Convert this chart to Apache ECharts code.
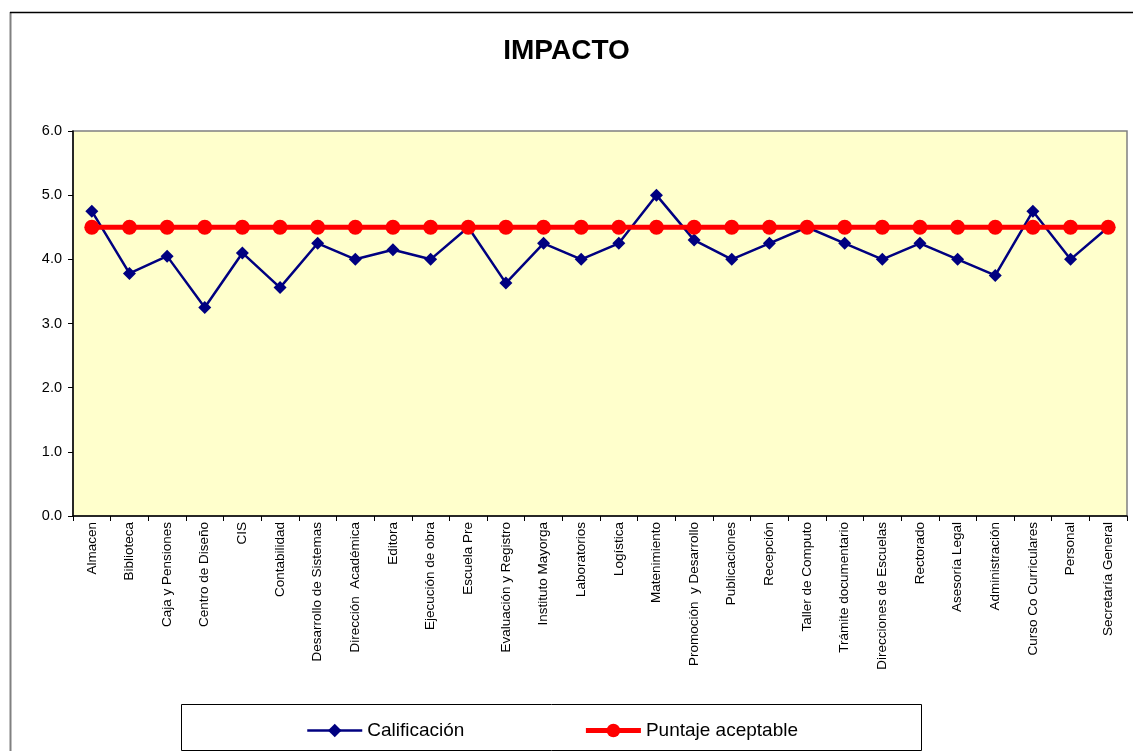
<!DOCTYPE html>
<html>
<head>
<meta charset="utf-8">
<script src="https://cdn.jsdelivr.net/npm/echarts@6/dist/echarts.min.js"></script>
<style>
  html, body { margin: 0; padding: 0; background: #ffffff; }
  #chart { width: 1133px; height: 751px; }
</style>
</head>
<body>
<div id="chart"></div>
<script>
// Areas evaluated
const categories = [
  'Almacen', 'Biblioteca', 'Caja y Pensiones', 'Centro de Diseño', 'CIS',
  'Contabilidad', 'Desarrollo de Sistemas', 'Dirección  Académica', 'Editora',
  'Ejecución de obra', 'Escuela Pre', 'Evaluación y Registro', 'Instituto Mayorga',
  'Laboratorios', 'Logística', 'Matenimiento', 'Promoción  y Desarrollo',
  'Publicaciones', 'Recepción', 'Taller de Computo', 'Trámite documentario',
  'Direcciones de Escuelas', 'Rectorado', 'Asesoría Legal', 'Administración',
  'Curso Co Curriculares', 'Personal', 'Secretaría General'
];

// Score per area
const calificacion = [
  4.75, 3.78, 4.05, 3.25, 4.1, 3.56, 4.25, 4.0, 4.15, 4.0,
  4.5, 3.63, 4.25, 4.0, 4.25, 5.0, 4.3, 4.0, 4.25, 4.5,
  4.25, 4.0, 4.25, 4.0, 3.75, 4.75, 4.0, 4.5
];

// Acceptable threshold per area
const puntajeAceptable = [
  4.5, 4.5, 4.5, 4.5, 4.5, 4.5, 4.5, 4.5, 4.5, 4.5,
  4.5, 4.5, 4.5, 4.5, 4.5, 4.5, 4.5, 4.5, 4.5, 4.5,
  4.5, 4.5, 4.5, 4.5, 4.5, 4.5, 4.5, 4.5
];

const yTicks = { min: 0, max: 6, interval: 1 };

const FONT = '"Liberation Sans", Arial, sans-serif';

const chart = echarts.init(document.getElementById('chart'), null, { renderer: 'canvas' });

chart.setOption({
  backgroundColor: '#ffffff',
  animation: false,
  title: {
    text: 'IMPACTO',
    left: 'center',
    top: 32,
    textStyle: { fontFamily: FONT, fontSize: 28, fontWeight: 'bold', color: '#000000' }
  },
  graphic: [
    // chart frame
    { type: 'line', silent: true, shape: { x1: 10.5, y1: 12, x2: 10.5, y2: 751 },
      style: { stroke: '#808080', lineWidth: 2 } },
    { type: 'line', silent: true, shape: { x1: 10, y1: 12.5, x2: 1133, y2: 12.5 },
      style: { stroke: '#000000', lineWidth: 1.5 } },
    // legend frame
    { type: 'rect', silent: true, shape: { x: 181.5, y: 704.5, width: 740, height: 46 },
      style: { fill: '#ffffff', stroke: '#000000', lineWidth: 1 }, z: 0 }
  ],
  legend: {
    left: 301,
    top: 716,
    itemWidth: 55,
    itemHeight: 17,
    itemGap: 119,
    z: 10,
    textStyle: { fontFamily: FONT, fontSize: 19, color: '#000000' },
    data: [
      { name: 'Calificación', lineStyle: { width: 2.5 } },
      { name: 'Puntaje aceptable', lineStyle: { width: 5 } }
    ]
  },
  grid: {
    left: 73,
    top: 131,
    right: 6,
    bottom: 235,
    show: true,
    backgroundColor: '#FFFFCC',
    borderColor: '#808080',
    borderWidth: 1.5
  },
  xAxis: {
    type: 'category',
    data: categories,
    boundaryGap: true,
    axisLine: { lineStyle: { color: '#000000', width: 1.5 } },
    axisTick: { show: true, length: 5, lineStyle: { color: '#000000' } },
    axisLabel: {
      rotate: 90,
      interval: 0,
      margin: 6,
      fontFamily: FONT,
      fontSize: 13.5,
      color: '#000000'
    },
    splitLine: { show: false }
  },
  yAxis: {
    type: 'value',
    min: yTicks.min,
    max: yTicks.max,
    interval: yTicks.interval,
    axisLine: { show: true, lineStyle: { color: '#000000', width: 1.5 } },
    axisTick: { show: true, length: 5, lineStyle: { color: '#000000' } },
    axisLabel: {
      margin: 11,
      fontFamily: FONT,
      fontSize: 14.5,
      color: '#000000',
      formatter: v => v.toFixed(1)
    },
    splitLine: { show: false }
  },
  series: [
    {
      name: 'Calificación',
      type: 'line',
      data: calificacion,
      symbol: 'diamond',
      symbolSize: 13,
      itemStyle: { color: '#000080' },
      lineStyle: { color: '#000080', width: 2.5 },
      z: 2
    },
    {
      name: 'Puntaje aceptable',
      type: 'line',
      data: puntajeAceptable,
      symbol: 'circle',
      symbolSize: 15,
      itemStyle: { color: '#FF0000' },
      lineStyle: { color: '#FF0000', width: 5 },
      z: 3
    }
  ]
});
</script>
</body>
</html>
